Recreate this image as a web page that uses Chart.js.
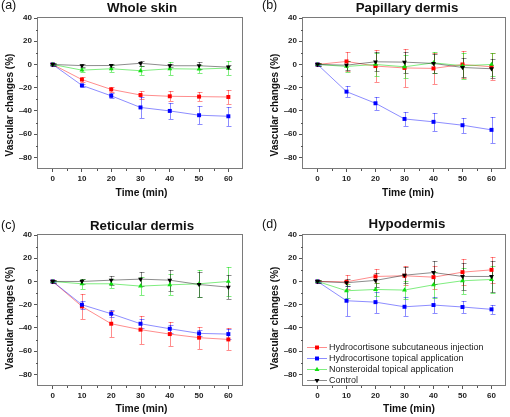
<!DOCTYPE html>
<html>
<head>
<meta charset="utf-8">
<script src="https://cdn.jsdelivr.net/npm/chart.js@4.4.0/dist/chart.umd.min.js"></script>
<style>
  body { margin: 0; background: #fff; }
  #page { position: relative; width: 510px; height: 417px; overflow: hidden; font-family: "Liberation Sans", Arial, sans-serif; color: #111; }
  canvas { position: absolute; }
  .txt { position: absolute; white-space: nowrap; line-height: 1; }
  .ttl { font-weight: bold; font-size: 13.3px; transform: translateX(-50%); }
  .let { font-size: 12.5px; }
  .xl { font-weight: bold; font-size: 10.3px; transform: translateX(-50%); }
  .yl { font-weight: bold; font-size: 10px; transform: translate(-50%, -50%) rotate(-90deg); }
</style>
</head>
<body>
<div id="page">
  <canvas id="c0" width="255" height="207" style="left:0;top:0"></canvas>
  <canvas id="c1" width="255" height="207" style="left:255px;top:0"></canvas>
  <canvas id="c2" width="255" height="210" style="left:0;top:207px"></canvas>
  <canvas id="c3" width="255" height="210" style="left:255px;top:207px"></canvas>
</div>
<script>
var times = [0, 10, 20, 30, 40, 50, 60];
var xTicks = [0, 10, 20, 30, 40, 50, 60];
var xMinor = [5, 15, 25, 35, 45, 55];
var yTicks = [-80, -60, -40, -20, 0, 20, 40];
var yMinor = [-70, -50, -30, -10, 10, 30];
var seriesNames = ["Hydrocortisone subcutaneous injection", "Hydrocortisone topical application", "Nonsteroidal topical application", "Control"];
var panelTitles = ["Whole skin", "Papillary dermis", "Reticular dermis", "Hypodermis"];
var panelLetters = ["(a)", "(b)", "(c)", "(d)"];

// means per series: injection, topical, nonsteroidal, control
var wholeSkinMean = [
  [0, -13, -21.5, -26.3, -27.4, -27.7, -28],
  [0, -18, -27, -37, -40, -43.7, -44.6],
  [0, -4.9, -3.7, -5.4, -3.7, -4, -3.1],
  [0, -1, -0.9, 1, -1.1, -1.1, -2.3]
];
var wholeSkinSd = [
  [0.5, 2.5, 2, 3.2, 4.3, 4, 6],
  [0.5, 1.5, 2.3, 9, 6.7, 7.9, 8],
  [1, 1.5, 3, 4, 5.7, 3.4, 6],
  [1, 1, 1.5, 2, 1.5, 3, 2]
];
var papillaryMean = [
  [0, 2.6, -1.4, -3, -3.4, 0, -2],
  [0, -23.4, -33.4, -46.9, -49.4, -52.3, -56.3],
  [0, -1.7, 0, -2, 1.4, -1.1, 0],
  [0, -0.6, 2.3, 2, 0.9, -2.6, -3.7]
];
var papillarySd = [
  [1, 8.5, 13.5, 16, 13.4, 12, 11.7],
  [0.5, 5, 5.5, 6, 7.5, 6.5, 11],
  [1, 5, 10, 10, 9, 11, 10],
  [1, 4, 8, 9, 8, 8, 8]
];
var reticularMean = [
  [0, -21.5, -36.4, -41.5, -45.3, -48.4, -49.9],
  [0, -20, -27.8, -36.4, -40.7, -44.7, -45.3],
  [0, -2, -2, -4, -2.9, -2, 0],
  [0, 0, 1.1, 2, 1.1, -2.6, -4.9]
];
var reticularSd = [
  [1, 11, 11, 12, 10.5, 9.5, 9.5],
  [0.5, 3.5, 3, 4, 3.5, 2.5, 4.5],
  [1, 4.5, 4, 7.5, 9, 11.5, 12.5],
  [1, 2, 4, 6, 9, 10.5, 10.5]
];
var hypodermisMean = [
  [0, -0.3, 4.3, 4.9, 3.7, 8, 10],
  [0, -16.6, -17.8, -21.8, -20.3, -22, -24],
  [0, -8, -6.9, -7.4, -2.9, 0.6, 1.7],
  [0, -1.1, 0.9, 5.4, 7.7, 4.3, 4.3]
];
var hypodermisSd = [
  [1, 6, 6, 8, 10, 11, 11],
  [0.5, 13, 9, 8, 6.5, 5, 4],
  [1, 6, 6, 7.5, 11, 11, 12],
  [1, 3, 6, 7, 10, 12, 13]
];

var solid = ["#ff0000", "#0000ff", "#10e010", "#000000"];
var light = ["rgba(255,0,0,0.45)", "rgba(0,0,255,0.45)", "rgba(0,220,0,0.5)", "rgba(0,0,0,0.45)"];
var styles = ["rect", "rect", "triangle", "triangle"];
var rotations = [0, 0, 0, 180];
var fontFamily = '"Liberation Sans", Arial, sans-serif';

// canvas position on page + plot box inside canvas
var panels = [
  {id: "c0", x: 0, y: 0, w: 255, h: 207, box: {l: 38, t: 18, r: 243, b: 169}, mean: wholeSkinMean, sd: wholeSkinSd},
  {id: "c1", x: 255, y: 0, w: 255, h: 207, box: {l: 48, t: 18, r: 253, b: 169}, mean: papillaryMean, sd: papillarySd},
  {id: "c2", x: 0, y: 207, w: 255, h: 210, box: {l: 38, t: 28, r: 243, b: 179}, mean: reticularMean, sd: reticularSd},
  {id: "c3", x: 255, y: 207, w: 255, h: 210, box: {l: 48, t: 28, r: 253, b: 179}, mean: hypodermisMean, sd: hypodermisSd, legend: true}
];

// html text positions (page coords); tops computed from baselines
var titlePos = [[142, 12], [407, 12], [142, 230], [407, 228]];
var letterPos = [[1, 10], [262, 10], [1, 229.5], [262, 229]];
var xLabelPos = [[141.5, 196.6], [408, 196.6], [141.5, 412.8], [409, 412.8]];
var yLabelPos = [[10, 104.5], [274.5, 104.5], [10, 318], [274.5, 318]];

function addText(cls, txt, x, y, size) {
  var d = document.createElement("div");
  d.className = "txt " + cls;
  d.textContent = txt;
  d.style.left = x + "px";
  d.style.top = (size ? y - 0.8465 * size : y) + "px";
  document.getElementById("page").appendChild(d);
}

var px = function(v){ return Math.round(v) + 0.5; };

var decor = {
  id: "decor",
  beforeDatasetsDraw: function(chart, args, opts) {
    var ctx = chart.ctx, ys = chart.scales.y;
    ctx.save();
    ctx.lineWidth = 1;
    chart.data.datasets.forEach(function(ds, i) {
      var meta = chart.getDatasetMeta(i);
      ctx.strokeStyle = light[i];
      meta.data.forEach(function(pt, j) {
        var x = px(pt.x);
        var yTop = ys.getPixelForValue(ds.data[j].y + ds.sd[j]);
        var yBot = ys.getPixelForValue(ds.data[j].y - ds.sd[j]);
        ctx.beginPath();
        ctx.moveTo(x, Math.round(yTop)); ctx.lineTo(x, Math.round(yBot));
        ctx.moveTo(x - 2, px(yTop)); ctx.lineTo(x + 3, px(yTop));
        ctx.moveTo(x - 2, px(yBot)); ctx.lineTo(x + 3, px(yBot));
        ctx.stroke();
      });
    });
    ctx.restore();
  },
  afterDraw: function(chart, args, opts) {
    var ctx = chart.ctx, a = chart.chartArea, xs = chart.scales.x, ys = chart.scales.y;
    ctx.save();
    ctx.strokeStyle = "#7a7a7a";
    ctx.lineWidth = 1;
    ctx.strokeRect(px(a.left) - 1, px(a.top) - 1, Math.round(a.right - a.left), Math.round(a.bottom - a.top));
    ctx.strokeStyle = "#555";
    ctx.beginPath();
    xMinor.forEach(function(v) {
      var x = px(xs.getPixelForValue(v));
      ctx.moveTo(x, Math.round(a.bottom)); ctx.lineTo(x, Math.round(a.bottom) + 2);
    });
    yMinor.forEach(function(v) {
      var y = px(ys.getPixelForValue(v));
      ctx.moveTo(Math.round(a.left) - 2, y); ctx.lineTo(Math.round(a.left), y);
    });
    ctx.stroke();
    if (opts.legend) {
      var rows = [140, 151, 162, 173];
      ctx.font = "9px " + fontFamily;
      ctx.textBaseline = "middle";
      seriesNames.forEach(function(name, i) {
        var y = rows[i] + 0.5;
        ctx.strokeStyle = light[i];
        ctx.beginPath(); ctx.moveTo(52, y); ctx.lineTo(72, y); ctx.stroke();
        ctx.fillStyle = solid[i];
        Chart.helpers.drawPoint(ctx, {pointStyle: styles[i], radius: 2.8, rotation: rotations[i], borderWidth: 0}, 62, y);
        ctx.fillStyle = "#222";
        ctx.fillText(name, 74, y);
      });
    }
    ctx.restore();
  }
};

function tickFmt(v) { return v < 0 ? "\u2013" + Math.abs(v) : String(v); }

panels.forEach(function(p, k) {
  var datasets = p.mean.map(function(vals, i) {
    return {
      label: seriesNames[i],
      data: times.map(function(t, j) { return {x: t, y: vals[j]}; }),
      sd: p.sd[i],
      borderColor: light[i],
      backgroundColor: solid[i],
      borderWidth: 1,
      pointStyle: styles[i],
      pointRotation: rotations[i],
      pointRadius: 2.8,
      pointBorderWidth: 0,
      pointBackgroundColor: solid[i],
      tension: 0,
      order: 3 - i
    };
  });
  new Chart(document.getElementById(p.id), {
    type: "line",
    data: {datasets: datasets},
    plugins: [decor],
    options: {
      responsive: false,
      animation: false,
      layout: {padding: {left: 0, top: p.box.t, right: p.w - p.box.r, bottom: 0}},
      plugins: {
        legend: {display: false},
        tooltip: {enabled: false},
        decor: {legend: !!p.legend}
      },
      scales: {
        x: {
          type: "linear", min: -5, max: 65,
          afterBuildTicks: function(s) { s.ticks = xTicks.map(function(v) { return {value: v}; }); },
          afterFit: function(s) { s.height = p.h - p.box.b; },
          grid: {drawOnChartArea: false, tickLength: 3, tickColor: "#555"},
          border: {display: false},
          ticks: {font: {family: fontFamily, size: 8, weight: "bold"}, color: "#222", padding: 2, maxRotation: 0, callback: tickFmt}
        },
        y: {
          type: "linear", min: -90, max: 40,
          afterBuildTicks: function(s) { s.ticks = yTicks.map(function(v) { return {value: v}; }); },
          afterFit: function(s) { s.width = p.box.l; },
          grid: {drawOnChartArea: false, tickLength: 4, tickColor: "#555"},
          border: {display: false},
          ticks: {font: {family: fontFamily, size: 8, weight: "bold"}, color: "#222", padding: 2, callback: tickFmt}
        }
      }
    }
  });
  addText("ttl", panelTitles[k], titlePos[k][0], titlePos[k][1], 13.3);
  addText("let", panelLetters[k], letterPos[k][0], letterPos[k][1], 12.5);
  addText("xl", "Time (min)", xLabelPos[k][0], xLabelPos[k][1], 10.3);
  addText("yl", "Vascular changes (%)", yLabelPos[k][0], yLabelPos[k][1]);
});
</script>
</body>
</html>
